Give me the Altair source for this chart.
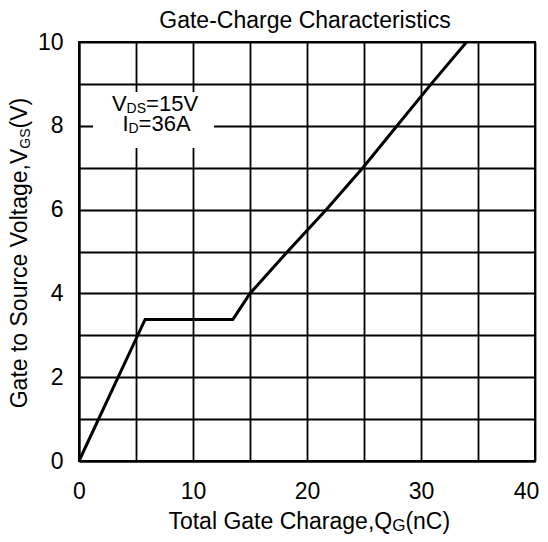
import altair as alt
import pandas as pd

# ---- data ----
qg_nc = [0, 5.8, 13.5, 15.0, 18.3, 21.7, 24.9, 27.9, 30.9, 34.0]
vgs_v = [0, 3.38, 3.38, 4.0, 5.0, 6.0, 7.0, 8.0, 9.0, 10.0]

x_ticks = [0, 5, 10, 15, 20, 25, 30, 35, 40]
y_ticks = [0, 1, 2, 3, 4, 5, 6, 7, 8, 9, 10]

title_text = "Gate-Charge Characteristics"
# (text, is_subscript)
x_title_parts = [("Total Gate Charage,Q", False), ("G", True), ("(nC)", False)]
y_title_parts = [("Gate to Source Voltage,V", False), ("GS", True), ("\u00a0(V)", False)]
note1_parts = [("V", False), ("DS", True), ("=15V", False)]
note2_parts = [("I", False), ("D", True), ("=36A", False)]

FONT = "Liberation Sans"
W, H = 456, 419

# Arial / Liberation Sans advance widths (1/1000 em)
ADV = {" ": 278, "\u00a0": 278, "(": 333, ")": 333, ",": 278, "-": 333, "=": 584,
       "1": 556, "3": 556, "5": 556, "6": 556,
       "A": 667, "C": 722, "D": 722, "G": 778, "I": 278, "Q": 778, "S": 667,
       "T": 611, "V": 667, "a": 556, "c": 500, "e": 556, "g": 556, "h": 556,
       "i": 222, "l": 222, "n": 556, "o": 556, "r": 333, "s": 500, "t": 278,
       "u": 556}


def tw(s, size):
    return sum(ADV.get(ch, 556) for ch in s) * size / 1000.0


def rich(parts, px, py, size, sub_size, sub_dy, angle=0):
    widths = [tw(t, sub_size if sub else size) for t, sub in parts]
    total = sum(widths)
    off = -total / 2.0
    layers = []
    for i, ((t, sub), w) in enumerate(zip(parts, widths)):
        # first piece ends exactly where the subscript starts
        if i == 0:
            align, dx = "right", off + w
        else:
            align, dx = "left", off
        kw = dict(text=t, align=align, baseline="alphabetic", font=FONT,
                  fontSize=sub_size if sub else size, color="black",
                  dx=dx, dy=sub_dy if sub else 0)
        if angle:
            kw["angle"] = angle
        layers.append(
            alt.Chart(pd.DataFrame({"k": [0]})).mark_text(**kw).encode(
                x=alt.value(px), y=alt.value(py)))
        off += w
    return layers


curve_df = pd.DataFrame({"qg": qg_nc, "vgs": vgs_v})

x_enc = alt.X("qg:Q", scale=alt.Scale(domain=[0, 40], nice=False),
              axis=alt.Axis(values=x_ticks, title=None,
                            labelExpr="datum.value % 10 === 0 ? datum.label : ''",
                            labelFlush=False, labelPadding=19, labelBaseline="top",
                            labelOffset={"condition": {"test": "datum.value === 40", "value": -9},
                                         "value": 0}))
y_enc = alt.Y("vgs:Q", scale=alt.Scale(domain=[0, 10], nice=False),
              axis=alt.Axis(values=y_ticks, title=None,
                            labelExpr="datum.value % 2 === 0 ? datum.label : ''",
                            labelPadding=16))

curve = alt.Chart(curve_df).mark_line(color="black", strokeWidth=3).encode(
    x=x_enc, y=y_enc, order=alt.Order("qg:Q"))

box = alt.Chart(pd.DataFrame({"k": [0]})).mark_rect(fill="white").encode(
    x=alt.value(14), x2=alt.value(135), y=alt.value(50), y2=alt.value(106))

title_layer = alt.Chart(pd.DataFrame({"k": [0]})).mark_text(
    text=title_text, align="center", baseline="alphabetic", font=FONT,
    fontSize=23, color="black").encode(x=alt.value(226), y=alt.value(-14))

layers = [box, curve, title_layer]
layers += rich(x_title_parts, 229, 487, 23, 17, 2)
layers += rich(y_title_parts, -52, 208.5, 23, 14, 3, angle=270)
layers += rich(note1_parts, 76, 69.3, 22, 14, 2)
layers += rich(note2_parts, 77.5, 88.7, 22, 14, 2)

chart = alt.layer(*layers).properties(
    width=W, height=H,
    autosize=alt.AutoSizeParams(type="none"),
    padding={"left": 71, "top": 34, "right": 5, "bottom": 73},
    background="white",
).configure_axis(
    grid=True, gridColor="black", gridWidth=1.8, gridOpacity=1,
    ticks=False, tickSize=0,
    domain=True, domainColor="black", domainWidth=2,
    labelFont=FONT, labelFontSize=23, labelColor="black",
).configure_view(stroke="black", strokeWidth=2)

chart.save("out.html", embed_options={"renderer": "svg", "actions": False})
